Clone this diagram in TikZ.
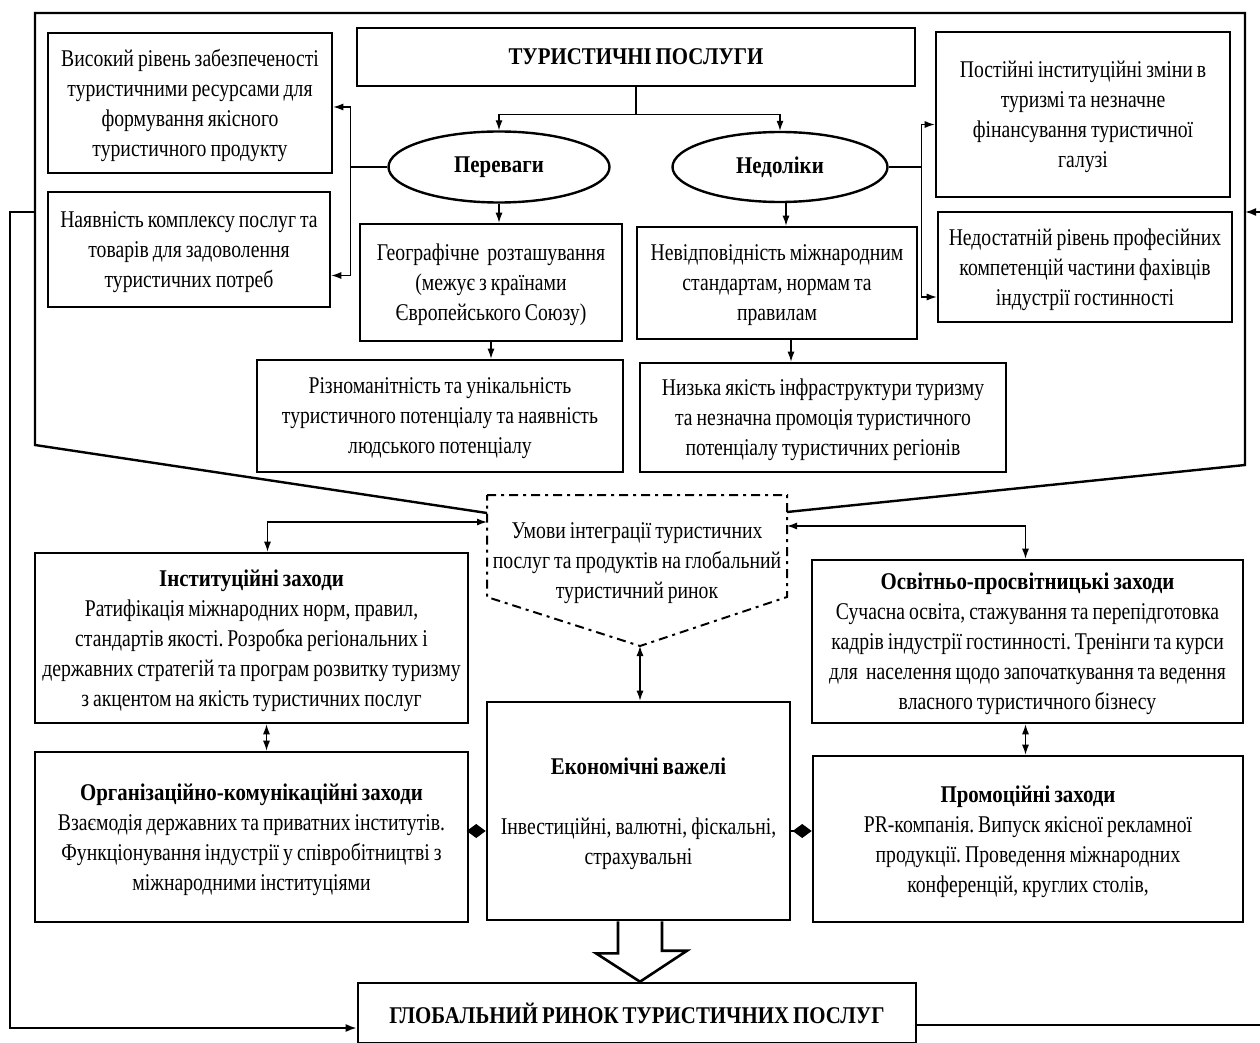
\documentclass[tikz,border=0pt]{standalone}
\usepackage{fontspec}
\setmainfont{Liberation Serif}[FakeStretch=0.82, BoldFeatures={FakeStretch=0.87}]
\usetikzlibrary{arrows.meta,positioning,shapes.geometric,calc}
\newcommand\txtsize{\fontsize{24}{30}\selectfont\frenchspacing\spaceskip=4pt plus 2pt minus 1pt\relax}
\tikzset{
  box/.style={draw, line width=2.6pt, rectangle, align=center, inner sep=0pt, text depth=0pt, font=\txtsize},
  ell/.style={draw, line width=2.4pt, ellipse, align=center, inner sep=0pt, font=\txtsize\bfseries},
  frame/.style={line width=2.4pt},
  loop/.style={-{Latex[length=11pt,width=8pt]}, line width=1.8pt},
  arr/.style={-{Latex[length=10pt,width=7pt]}, line width=1.2pt},
  dbl/.style={{Latex[length=10pt,width=7pt]}-{Latex[length=10pt,width=7pt]}, line width=1.2pt},
  dia/.style={-{Diamond[length=19pt,width=14pt]}, line width=1.2pt},
  dashbox/.style={line width=2pt, dash pattern=on 9pt off 5pt on 3pt off 5pt},
  hollow/.style={line width=2.6pt, fill=white, line join=miter}
}
\begin{document}
\begin{tikzpicture}[x=1pt, y=-1pt]
  \useasboundingbox (0,0) rectangle (1260,1043);
  % upper block
  \node[box, minimum width=558pt, minimum height=58pt] (top) at (636,57) {\textbf{ТУРИСТИЧНІ ПОСЛУГИ}};
  \node[ell, minimum width=221pt, minimum height=71pt] (perev) at (499,167) {Переваги};
  \node[ell, minimum width=215pt, minimum height=70pt] (nedol) at (780,167) {Недоліки};
  \node[box, minimum width=284pt, minimum height=140pt] (vys) at (190,103) {Високий рівень забезпеченості\\туристичними ресурсами для\\формування якісного\\туристичного продукту};
  \node[box, minimum width=282pt, minimum height=115pt] (nayav) at (189,249.5) {Наявність комплексу послуг та\\товарів для задоволення\\туристичних потреб};
  \node[box, minimum width=294pt, minimum height=165pt] (post) at (1083,114.5) {Постійні інституційні зміни в\\туризмі та незначне\\фінансування туристичної\\галузі};
  \node[box, minimum width=294pt, minimum height=110pt] (nedost) at (1085,267) {Недостатній рівень професійних\\компетенцій частини фахівців\\індустрії гостинності};
  \node[box, minimum width=262pt, minimum height=117pt] (geo) at (491,282.5) {Географічне\ \ розташування\\(межує з країнами\\Європейського Союзу)};
  \node[box, minimum width=280pt, minimum height=112pt] (nevid) at (777,283) {Невідповідність міжнародним\\стандартам, нормам та\\правилам};
  \node[box, minimum width=366pt, minimum height=112pt] (rizn) at (440,416) {Різноманітність та унікальність\\туристичного потенціалу та наявність\\людського потенціалу};
  \node[box, minimum width=366pt, minimum height=109pt] (nyzka) at (823,417.5) {Низька якість інфраструктури туризму\\та незначна промоція туристичного\\потенціалу туристичних регіонів};
  % conditions (dash-dot pentagon)
  \node[align=center, inner sep=0pt, text depth=0pt, font=\txtsize] (umovy) at (637,561) {Умови інтеграції туристичних\\послуг та продуктів на глобальний\\туристичний ринок};
  \coordinate (unw) at (487,495);
  \coordinate (une) at (787,495);
  \coordinate (utip) at (640,646);
  \coordinate (uw) at (487,522);
  \coordinate (ue) at (787,526);
  \coordinate (fl) at (487,513);
  \coordinate (fr) at (787,512);
  \draw[dashbox] (unw) -- (une) -- (787,597) -- (utip) -- (487,597) -- cycle;
  % measures
  \node[box, minimum width=433pt, minimum height=170pt] (inst) at (251.5,638) {\textbf{Інституційні заходи}\\Ратифікація міжнародних норм, правил,\\стандартів якості. Розробка регіональних і\\державних стратегій та програм розвитку туризму\\з акцентом на якість туристичних послуг};
  \node[box, minimum width=433pt, minimum height=170pt] (org) at (251.5,837) {\textbf{Організаційно-комунікаційні заходи}\\Взаємодія державних та приватних інститутів.\\Функціонування індустрії у співробітництві з\\міжнародними інституціями};
  \node[box, minimum width=303pt, minimum height=218pt] (eco) at (638.5,811) {\textbf{Економічні важелі}\\[30pt]Інвестиційні, валютні, фіскальні,\\страхувальні};
  \node[box, minimum width=431pt, minimum height=163pt] (osv) at (1027.5,641.5) {\textbf{Освітньо-просвітницькі заходи}\\Сучасна освіта, стажування та перепідготовка\\кадрів індустрії гостинності. Тренінги та курси\\для\ \ населення щодо започаткування та ведення\\власного туристичного бізнесу};
  \node[box, minimum width=430pt, minimum height=166pt] (prom) at (1028,839) {\textbf{Промоційні заходи}\\PR-компанія. Випуск якісної рекламної\\продукції. Проведення міжнародних\\конференцій, круглих столів,};
  \node[box, minimum width=558pt, minimum height=60pt] (glob) at (637,1013) {\textbf{ГЛОБАЛЬНИЙ РИНОК ТУРИСТИЧНИХ ПОСЛУГ}};
  % outer frame and loops
  \draw[frame] (fl) -- (35,445) -- (35,13) -- (1245,13) -- (1245,465) -- (fr);
  \coordinate (lf) at (35,212);
  \coordinate (rf) at (1245,212);
  \draw[loop] (lf) -- (10,212) |- ([yshift=-15pt]glob.west);
  \draw[loop] ([yshift=-12pt]glob.east) -| (1263,212) -- (rf);
  % connectors
  \draw[line width=1.2pt] (top.south) -- ++(0,27) coordinate (tj);
  \draw[arr] (tj) -| (perev.north);
  \draw[arr] (tj) -| (nedol.north);
  \draw[line width=1.2pt] (perev.west) -- ++(-37,0) coordinate (pl);
  \draw[arr] (pl) |- ([yshift=-4pt]vys.east);
  \draw[arr] (pl) |- ([yshift=-26pt]nayav.east);
  \draw[line width=1.2pt] (nedol.east) -- ++(33,0) coordinate (pr);
  \draw[arr] (pr) |- ([yshift=-10pt]post.west);
  \draw[arr] (pr) |- ([yshift=-30pt]nedost.west);
  \draw[arr] (perev.south) -- (perev.south |- geo.north);
  \draw[arr] ([xshift=6pt]nedol.south) -- ([xshift=6pt]nedol.south |- nevid.north);
  \draw[arr] (geo.south) -- (geo.south |- rizn.north);
  \draw[arr] ([xshift=14pt]nevid.south) -- ([xshift=14pt]nevid.south |- nyzka.north);
  \draw[dbl] (uw) -| ([xshift=16pt]inst.north);
  \draw[dbl] (ue) -| ([xshift=-2pt]osv.north);
  \draw[dbl] (utip) -- (utip |- eco.north);
  \draw[dbl] ([xshift=15pt]inst.south) -- ([xshift=15pt]org.north);
  \draw[dbl] ([xshift=-2pt]osv.south) -- ([xshift=-2pt]osv.south |- prom.north);
  \draw[dia] ([yshift=6pt]org.east) -- ([yshift=6pt]org.east -| eco.west);
  \draw[dia] ([yshift=-20pt]eco.east) -- ([yshift=-20pt]eco.east -| prom.west);
  % hollow arrow to the global market
  \draw[hollow] ([xshift=-20.5pt]eco.south) -- ++(0,32) -- ++(-22,0) -- ([xshift=3pt]glob.north) -- ++(47,-31) -- ++(-25,0) -- ([xshift=23.5pt]eco.south);
\end{tikzpicture}
\end{document}
